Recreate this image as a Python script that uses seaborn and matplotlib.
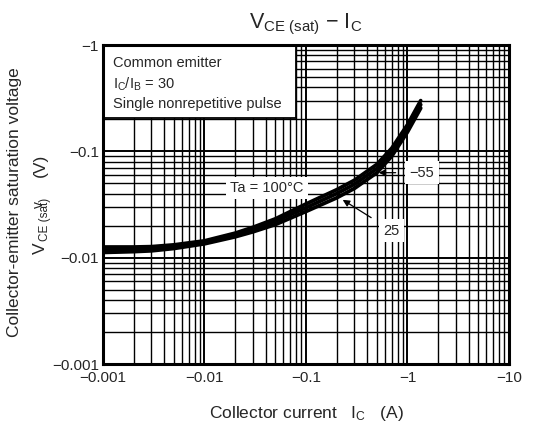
import matplotlib
matplotlib.use('Agg')
import matplotlib.pyplot as plt
import seaborn as sns
import pandas as pd
from matplotlib.patches import Rectangle
from matplotlib.ticker import FixedLocator, LogLocator, NullFormatter

# values (IC in A, VCE(sat) in V, shown negative on labels)
ic = [0.001, 0.002, 0.003, 0.005, 0.01, 0.02, 0.03, 0.05, 0.1, 0.2, 0.3, 0.5, 0.7, 1.0, 1.35]
v_100 = [0.0126, 0.0126, 0.0127, 0.0132, 0.0144, 0.017, 0.0193, 0.0232, 0.032, 0.0435, 0.0535, 0.0755, 0.107, 0.178, 0.30]
v_25 = [0.0118, 0.0119, 0.0121, 0.0127, 0.014, 0.0165, 0.0185, 0.022, 0.0295, 0.040, 0.049, 0.069, 0.098, 0.165, 0.275]
v_m55 = [0.0112, 0.0114, 0.0116, 0.0122, 0.0135, 0.0157, 0.0175, 0.0205, 0.0272, 0.0365, 0.0448, 0.063, 0.090, 0.152, 0.255]

x_ticks = [0.001, 0.01, 0.1, 1, 10]
x_labels = ['\u22120.001', '\u22120.01', '\u22120.1', '\u22121', '\u221210']
y_ticks = [0.001, 0.01, 0.1, 1]
y_labels = ['\u22120.001', '\u22120.01', '\u22120.1', '\u22121']

sns.set_style('white')
plt.rcParams['font.family'] = ['Liberation Sans', 'DejaVu Sans']
plt.rcParams['mathtext.fontset'] = 'custom'
plt.rcParams['mathtext.rm'] = 'Liberation Sans'
plt.rcParams['mathtext.it'] = 'Liberation Sans'

fig = plt.figure(figsize=(5.49, 4.37), dpi=100)
ax = fig.add_axes([0.1876, 0.167, 0.7395, 0.730])

df = pd.DataFrame({'ic': ic * 3,
                   'v': v_100 + v_25 + v_m55,
                   'ta': ['100'] * len(ic) + ['25'] * len(ic) + ['-55'] * len(ic)})
sns.lineplot(data=df, x='ic', y='v', units='ta', estimator=None, color='black',
             lw=2.7, ax=ax, zorder=3)

ax.set_xscale('log')
ax.set_yscale('log')
ax.set_xlim(0.001, 10)
ax.set_ylim(0.001, 1)
ax.xaxis.set_major_locator(FixedLocator(x_ticks))
ax.set_xticklabels(x_labels)
ax.yaxis.set_major_locator(FixedLocator(y_ticks))
ax.set_yticklabels(y_labels)
ax.xaxis.set_minor_locator(LogLocator(base=10, subs=range(2, 10)))
ax.yaxis.set_minor_locator(LogLocator(base=10, subs=range(2, 10)))
ax.xaxis.set_minor_formatter(NullFormatter())
ax.yaxis.set_minor_formatter(NullFormatter())
ax.tick_params(which='both', length=0, labelsize=11)
ax.tick_params(axis='x', pad=5)
ax.tick_params(axis='y', pad=3)
ax.grid(which='major', color='black', lw=1.4)
ax.grid(which='minor', color='black', lw=1.0)
for s in ax.spines.values():
    s.set_linewidth(2.2)
    s.set_color('black')
    s.set_zorder(5)

# condition box in the upper left corner
ax.add_patch(Rectangle((0, 0.771), 0.475, 0.229, transform=ax.transAxes,
                       facecolor='white', edgecolor='black', lw=1.3, zorder=4))
ax.text(0.025, 0.965, 'Common emitter\n$\\mathrm{I_C/I_B}$ = 30\nSingle nonrepetitive pulse',
        transform=ax.transAxes, va='top', ha='left', fontsize=10.5, linespacing=1.4, zorder=5)

box = dict(facecolor='white', edgecolor='none', pad=3)
ax.text(0.041, 0.045, 'Ta = 100\u00b0C', ha='center', va='center', fontsize=10.5, bbox=box, zorder=4)
arrow = dict(arrowstyle='-|>', color='black', lw=0.9, shrinkA=7, shrinkB=0, mutation_scale=10)
ax.annotate('\u221255', xy=(0.52, 0.063), xytext=(1.39, 0.063), ha='center', va='center',
            fontsize=10.5, bbox=box, zorder=4, arrowprops=arrow)
ax.annotate('25', xy=(0.23, 0.035), xytext=(0.70, 0.018), ha='center', va='center',
            fontsize=10.5, bbox=box, zorder=4, arrowprops=arrow)

ax.set_title('$\\mathrm{V_{CE\\ (sat)}}$ \u2212 $\\mathrm{I_C}$', fontsize=15.5, pad=12)
ax.set_xlabel('Collector current   $\\mathrm{I_C}$   (A)', fontsize=12.5, labelpad=14)
# y label: separate pieces, as in the reference (subscript drawn as its own text)
fig.text(15 / 549, 0.538, 'Collector-emitter saturation voltage', rotation=90,
         ha='center', va='center', fontsize=12.5)
fig.text(40 / 549, 1 - 248 / 437, 'V', rotation=90,
         ha='center', va='center', fontsize=12.5)
fig.text(45 / 549, 1 - 219 / 437, 'CE (sat)', rotation=90,
         ha='center', va='center', fontsize=8.5)
fig.text(40 / 549, 1 - 165 / 437, '(V)', rotation=90,
         ha='center', va='center', fontsize=12.5)

plt.savefig('out.png', dpi=100)
plt.close()
